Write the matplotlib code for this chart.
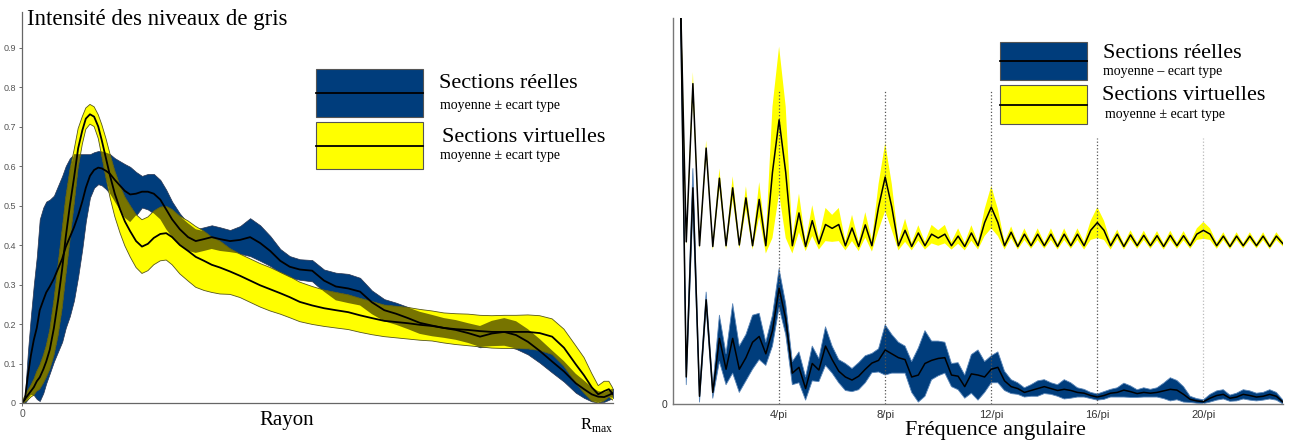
import numpy as np
import matplotlib.pyplot as plt
from matplotlib.patches import Rectangle

plt.rcParams['font.family'] = ['Liberation Serif', 'DejaVu Serif']
plt.rcParams['mathtext.fontset'] = 'custom'
plt.rcParams['mathtext.rm'] = 'Liberation Serif'

# ---- left panel : profil radial (rayon normalise 0..Rmax)
rayon = [0.000, 0.005, 0.010, 0.015, 0.020, 0.025, 0.030, 0.036, 0.041,
         0.047, 0.054, 0.061, 0.068, 0.074, 0.081, 0.088, 0.095, 0.102, 0.108,
         0.115, 0.122, 0.129, 0.135, 0.142, 0.149,
         0.157, 0.166, 0.174, 0.183, 0.193, 0.203, 0.213, 0.223, 0.234, 0.244, 0.254,
         0.267, 0.281, 0.294, 0.308, 0.321, 0.335,
         0.352, 0.369, 0.386, 0.403, 0.420, 0.437, 0.453, 0.470,
         0.491, 0.511, 0.531, 0.552, 0.572, 0.592, 0.613, 0.633, 0.653, 0.673,
         0.694, 0.714, 0.734, 0.755, 0.775, 0.795, 0.816, 0.836, 0.856, 0.876,
         0.897, 0.917, 0.937,
         0.951, 0.964, 0.975, 0.985, 0.993, 1.000]

reel_moy = [0.00, 0.01, 0.07, 0.12, 0.16, 0.19, 0.235, 0.26, 0.28,
            0.295, 0.315, 0.34, 0.365, 0.395, 0.42, 0.445, 0.475, 0.51, 0.545,
            0.575, 0.59, 0.596, 0.594, 0.588, 0.58,
            0.565, 0.55, 0.537, 0.528, 0.53, 0.535, 0.535, 0.53, 0.515, 0.49, 0.465,
            0.44, 0.42, 0.41, 0.415, 0.42, 0.415,
            0.41, 0.413, 0.42, 0.405, 0.385, 0.36, 0.345, 0.338,
            0.335, 0.31, 0.295, 0.29, 0.282, 0.255, 0.235, 0.226, 0.215, 0.203,
            0.196, 0.19, 0.185, 0.177, 0.168, 0.176, 0.18, 0.172, 0.155, 0.132,
            0.105, 0.08, 0.05,
            0.035, 0.022, 0.016, 0.015, 0.02, 0.025]

reel_std = [0.0, 0.01, 0.06, 0.10, 0.14, 0.18, 0.23, 0.235, 0.23,
            0.22, 0.21, 0.21, 0.21, 0.205, 0.20, 0.185, 0.155, 0.12, 0.085,
            0.055, 0.045, 0.042, 0.043, 0.046, 0.05,
            0.055, 0.062, 0.068, 0.07, 0.055, 0.04, 0.045, 0.05, 0.05, 0.05, 0.045,
            0.04, 0.035, 0.03, 0.03, 0.03, 0.03,
            0.028, 0.035, 0.048, 0.045, 0.038, 0.03, 0.027, 0.026,
            0.027, 0.028, 0.035, 0.037, 0.035, 0.03, 0.028, 0.028, 0.028, 0.028,
            0.027, 0.025, 0.025, 0.025, 0.027, 0.032, 0.035, 0.035, 0.032, 0.03,
            0.028, 0.026, 0.024,
            0.022, 0.018, 0.014, 0.012, 0.012, 0.012]

virt_moy = [0.00, 0.01, 0.02, 0.03, 0.04, 0.055, 0.065, 0.085, 0.105,
            0.135, 0.19, 0.26, 0.34, 0.42, 0.50, 0.57, 0.645, 0.69, 0.72,
            0.731, 0.725, 0.70, 0.665, 0.62, 0.575,
            0.53, 0.49, 0.46, 0.435, 0.41, 0.396, 0.403, 0.418, 0.428, 0.43, 0.42,
            0.40, 0.385, 0.37, 0.36, 0.35, 0.343,
            0.333, 0.322, 0.31, 0.298, 0.288, 0.278, 0.268, 0.256,
            0.247, 0.24, 0.235, 0.23, 0.222, 0.215, 0.208, 0.205, 0.202, 0.198,
            0.195, 0.19, 0.187, 0.185, 0.182, 0.18, 0.18, 0.18, 0.18, 0.177,
            0.168, 0.14, 0.098,
            0.07, 0.04, 0.022, 0.03, 0.035, 0.022]

virt_std = [0.005, 0.008, 0.012, 0.015, 0.02, 0.025, 0.03, 0.035, 0.04,
            0.05, 0.07, 0.09, 0.10, 0.10, 0.09, 0.07, 0.05, 0.035, 0.027,
            0.025, 0.025, 0.03, 0.04, 0.05, 0.055,
            0.058, 0.06, 0.062, 0.065, 0.067, 0.068, 0.068, 0.068, 0.068, 0.068, 0.07,
            0.073, 0.076, 0.077, 0.075, 0.07, 0.067,
            0.058, 0.055, 0.055, 0.055, 0.055, 0.053, 0.052, 0.05,
            0.048, 0.046, 0.045, 0.044, 0.043, 0.042, 0.04, 0.04, 0.04, 0.039,
            0.038, 0.038, 0.039, 0.04, 0.04, 0.041, 0.042, 0.042, 0.043, 0.044,
            0.045, 0.047, 0.047,
            0.045, 0.035, 0.022, 0.025, 0.02, 0.015]

# ---- right panel : spectre (frequence angulaire, pas de 0.25)
freq = np.arange(93) * 0.25

spec_virt_moy = [1.5, 1.15, 0.42, 0.83, 0.41, 0.663, 0.408, 0.585, 0.41, 0.56,
                 0.412, 0.534, 0.41, 0.53, 0.41, 0.60, 0.736, 0.60, 0.41, 0.495,
                 0.408, 0.475, 0.415, 0.465, 0.455, 0.465, 0.41, 0.456, 0.408, 0.464,
                 0.41, 0.51, 0.588, 0.51, 0.41, 0.45, 0.408, 0.443, 0.41, 0.44,
                 0.43, 0.44, 0.41, 0.435, 0.408, 0.443, 0.41, 0.47, 0.51, 0.47,
                 0.41, 0.445, 0.408, 0.44, 0.41, 0.44, 0.41, 0.44, 0.408, 0.44,
                 0.41, 0.44, 0.41, 0.45, 0.47, 0.45, 0.41, 0.44, 0.408, 0.438,
                 0.41, 0.437, 0.41, 0.436, 0.408, 0.437, 0.41, 0.436, 0.41, 0.44,
                 0.45, 0.44, 0.41, 0.435, 0.408, 0.435, 0.41, 0.435, 0.41, 0.435,
                 0.408, 0.435, 0.415]

spec_virt_std = [0.05, 0.05, 0.01, 0.03, 0.01, 0.02, 0.01, 0.025, 0.01, 0.03,
                 0.01, 0.03, 0.01, 0.045, 0.02, 0.17, 0.19, 0.17, 0.02, 0.05,
                 0.012, 0.04, 0.015, 0.043, 0.035, 0.043, 0.012, 0.034, 0.012, 0.033,
                 0.015, 0.06, 0.088, 0.06, 0.012, 0.03, 0.01, 0.02, 0.01, 0.024,
                 0.02, 0.024, 0.01, 0.02, 0.01, 0.02, 0.01, 0.035, 0.055, 0.035,
                 0.01, 0.015, 0.008, 0.015, 0.008, 0.015, 0.008, 0.015, 0.008, 0.015,
                 0.008, 0.015, 0.01, 0.025, 0.04, 0.025, 0.01, 0.012, 0.008, 0.012,
                 0.008, 0.012, 0.008, 0.012, 0.008, 0.012, 0.008, 0.012, 0.008, 0.015,
                 0.022, 0.015, 0.008, 0.01, 0.007, 0.01, 0.007, 0.01, 0.007, 0.01,
                 0.007, 0.01, 0.007]

spec_reel_moy = [1.5, 1.2, 0.07, 0.56, 0.02, 0.27, 0.03, 0.17, 0.09, 0.17,
                 0.09, 0.12, 0.16, 0.175, 0.13, 0.19, 0.30, 0.22, 0.08, 0.095,
                 0.04, 0.105, 0.088, 0.15, 0.115, 0.085, 0.07, 0.062, 0.072, 0.09,
                 0.106, 0.113, 0.14, 0.13, 0.12, 0.115, 0.07, 0.075, 0.105, 0.113,
                 0.118, 0.12, 0.075, 0.072, 0.045, 0.078, 0.075, 0.07, 0.09, 0.095,
                 0.06, 0.045, 0.04, 0.03, 0.035, 0.04, 0.045, 0.04, 0.035, 0.038,
                 0.035, 0.03, 0.028, 0.022, 0.018, 0.022, 0.028, 0.03, 0.036, 0.032,
                 0.027, 0.03, 0.028, 0.03, 0.034, 0.038, 0.036, 0.025, 0.012, 0.008,
                 0.006, 0.015, 0.022, 0.025, 0.015, 0.018, 0.025, 0.022, 0.018, 0.02,
                 0.025, 0.02, 0.005]

spec_reel_std = [0.05, 0.05, 0.02, 0.05, 0.015, 0.02, 0.015, 0.06, 0.04, 0.09,
                 0.06, 0.06, 0.07, 0.06, 0.03, 0.04, 0.05, 0.04, 0.03, 0.04,
                 0.03, 0.045, 0.03, 0.05, 0.035, 0.03, 0.035, 0.03, 0.035, 0.035,
                 0.025, 0.03, 0.065, 0.05, 0.04, 0.035, 0.04, 0.07, 0.085, 0.05,
                 0.045, 0.04, 0.03, 0.035, 0.03, 0.05, 0.065, 0.04, 0.035, 0.04,
                 0.025, 0.018, 0.015, 0.012, 0.015, 0.02, 0.018, 0.015, 0.015, 0.025,
                 0.02, 0.012, 0.01, 0.008, 0.008, 0.01, 0.01, 0.012, 0.018, 0.015,
                 0.01, 0.012, 0.01, 0.012, 0.02, 0.03, 0.025, 0.02, 0.008, 0.006,
                 0.005, 0.01, 0.012, 0.012, 0.008, 0.01, 0.012, 0.012, 0.01, 0.01,
                 0.012, 0.01, 0.005]

harmoniques = [4, 8, 12, 16, 20]
harm_labels = ['4/pi', '8/pi', '12/pi', '16/pi', '20/pi']
harm_tops = [0.81, 0.81, 0.81, 0.69, 0.69]

BLEU = '#003d7c'
JAUNE = '#ffff00'
OLIVE = '#777400'
W, H = 1289, 447

fig = plt.figure(figsize=(W / 100, H / 100), dpi=100)


def fx(px):
    return px / W


def fy(py):
    return 1 - py / H


# ---------------- left
ax1 = fig.add_axes([fx(22), fy(403), fx(613) - fx(22), fy(12) - fy(403)])
r = np.array(rayon)
bm, bs = np.array(reel_moy), np.array(reel_std)
vm, vs = np.array(virt_moy), np.array(virt_std)

ax1.fill_between(r, bm - bs, bm + bs, color=BLEU, edgecolor='#2a3550', lw=0.5)
ax1.fill_between(r, vm - vs, vm + vs, color=JAUNE, edgecolor='none')
lo = np.maximum(bm - bs, vm - vs)
hi = np.minimum(bm + bs, vm + vs)
ax1.fill_between(r, lo, hi, where=hi > lo, interpolate=True, color=OLIVE, lw=0)
ax1.plot(r, vm + vs, color='#55551a', lw=0.6)
ax1.plot(r, vm - vs, color='#55551a', lw=0.6)
ax1.plot(r, bm, color='black', lw=1.3)
ax1.plot(r, vm, color='black', lw=1.3)

ax1.set_xlim(0, 1)
ax1.set_ylim(0, 0.99)
ax1.set_yticks(np.arange(0, 1.0, 0.1))
ax1.set_yticklabels(['0'] + ['%.1f' % v for v in np.arange(0.1, 0.95, 0.1)],
                    family='Liberation Sans', fontsize=6.5, color='#333333')
ax1.set_xticks([0])
ax1.set_xticklabels(['0'], family='Liberation Sans', fontsize=7.5, color='#333333')
ax1.tick_params(length=2.5, width=0.6, colors='#555555', pad=2)
for s in ['top', 'right']:
    ax1.spines[s].set_visible(False)
for s in ['left', 'bottom']:
    ax1.spines[s].set_color('#666666')
    ax1.spines[s].set_linewidth(0.9)
ax1.text(1.0, -0.034, r'R$_{\mathrm{max}}$', transform=ax1.transAxes,
         ha='right', va='top', fontsize=12)
fig.text(fx(287), fy(421), 'Rayon', ha='center', va='center', fontsize=15)
fig.text(fx(27), fy(20), 'Intensité des niveaux de gris', ha='left', va='center',
         fontsize=16.5)

# ---------------- right
ax2 = fig.add_axes([fx(673), fy(404), fx(1283) - fx(673), fy(18) - fy(404)])
f = freq
ym, ys = np.array(spec_virt_moy), np.array(spec_virt_std)
rm, rs = np.array(spec_reel_moy), np.array(spec_reel_std)

for h, t in zip(harmoniques, harm_tops):
    c = '#bbbbbb' if h == 20 else '#555555'
    ax2.plot([h, h], [0, t], ls=':', lw=0.9, color=c)
ax2.fill_between(f, ym - ys, ym + ys, color=JAUNE, lw=0)
ax2.plot(f, ym, color='black', lw=1.1)
ax2.fill_between(f, rm - rs, rm + rs, color=BLEU, edgecolor='#5b86b8', lw=0.6)
ax2.plot(f, rm, color='black', lw=1.1)

ax2.set_xlim(0, 23)
ax2.set_ylim(0, 1)
ax2.set_xticks(harmoniques)
ax2.set_xticklabels(harm_labels, family='Liberation Sans', fontsize=8,
                    color='#333333')
ax2.set_yticks([0])
ax2.set_yticklabels(['0'], family='Liberation Sans', fontsize=7.5, color='#333333')
ax2.tick_params(length=0, pad=4)
for s in ['top', 'right']:
    ax2.spines[s].set_visible(False)
for s in ['left', 'bottom']:
    ax2.spines[s].set_color('#777777')
    ax2.spines[s].set_linewidth(1.0)
fig.text(fx(995), fy(431), 'Fréquence angulaire', ha='center', va='center',
         fontsize=16)


# ---------------- legends (drawn as in the original figure)
def legend_box(x0, x1, y0, y1, col):
    fig.add_artist(Rectangle((fx(x0), fy(y1)), fx(x1) - fx(x0), fy(y0) - fy(y1),
                             transform=fig.transFigure, facecolor=col,
                             edgecolor='#555555', lw=0.8))
    ym_ = (y0 + y1) / 2
    fig.add_artist(plt.Line2D([fx(x0), fx(x1)], [fy(ym_), fy(ym_)],
                              transform=fig.transFigure, color='black', lw=1.3))


legend_box(316, 423, 69, 117, BLEU)
legend_box(316, 423, 122, 169, JAUNE)
fig.text(fx(439), fy(84), 'Sections réelles', va='center', fontsize=16)
fig.text(fx(440), fy(106), 'moyenne ± ecart type', va='center', fontsize=10)
fig.text(fx(442), fy(137), 'Sections virtuelles', va='center', fontsize=16)
fig.text(fx(440), fy(155), 'moyenne ± ecart type', va='center', fontsize=10)

legend_box(1000, 1087, 42, 80, BLEU)
legend_box(1000, 1087, 85, 124, JAUNE)
fig.text(fx(1103), fy(53), 'Sections réelles', va='center', fontsize=16)
fig.text(fx(1103), fy(72), 'moyenne – ecart type', va='center', fontsize=10)
fig.text(fx(1102), fy(95), 'Sections virtuelles', va='center', fontsize=16)
fig.text(fx(1105), fy(114), 'moyenne ± ecart type', va='center', fontsize=10)

fig.savefig('out.png', dpi=100)
